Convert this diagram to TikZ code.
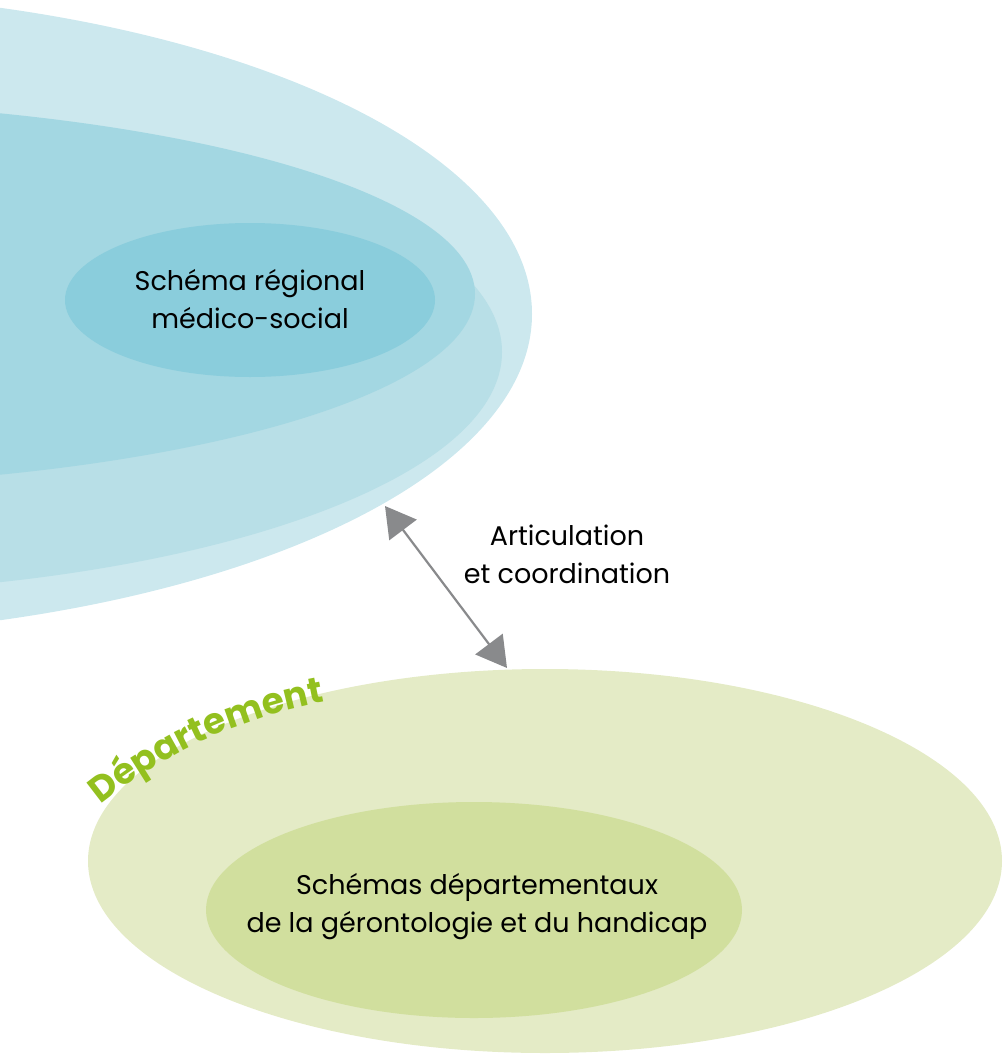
\documentclass[tikz,border=0pt]{standalone}
\usepackage{fontspec}
\setmainfont{Poppins}
\usetikzlibrary{arrows.meta,decorations.text}
\definecolor{regouter}{HTML}{CCE8EE}
\definecolor{regmid}{HTML}{B8DFE7}
\definecolor{regdark}{HTML}{A3D7E2}
\definecolor{reginner}{HTML}{8ACDDC}
\definecolor{depouter}{HTML}{E4EBC6}
\definecolor{depinner}{HTML}{D1DF9E}
\definecolor{depgreen}{HTML}{93C01F}
\definecolor{arrowgray}{HTML}{898A8C}
\newcommand{\depfont}{\bfseries\fontsize{36}{36}\selectfont}
\tikzset{
  schematext/.style={align=center, inner sep=0pt, font=\fontsize{27}{38}\selectfont},
  arrowline/.style={draw=arrowgray, line width=2.2pt,
    {Triangle[length=30pt,width=34pt]}-{Triangle[length=30pt,width=34pt]}}
}
\begin{document}
\begin{tikzpicture}[x=1pt, y=-1pt]
                \useasboundingbox (0,0) rectangle (1004,1057);
                \clip (0,0) rectangle (1004,1057);
                % region
                \fill[regouter] (-249,314) ellipse (781 and 323);
                \fill[regmid] (-225,352) ellipse (727 and 242);
                \fill[regdark] (-258,294) ellipse (733 and 193);
                \fill[reginner] (250,300) ellipse (185 and 77);
                \node[schematext] (region) at (250,299) {Schéma régional\\médico-social};
                % departement
                \fill[depouter] (545,861) ellipse (457 and 192);
                \fill[depinner] (474,910) ellipse (268 and 108);
                \node[schematext] (schemas) at (477,907) {Schémas départementaux\\de la gérontologie et du handicap};
                \path[decorate, decoration={text along path, text color=depgreen,
                    text={|\depfont|Département}}]
                    (101,805) .. controls (173,747) and (253,712) .. (348,698);
                % articulation
                \coordinate (regtip) at (385,506);
                \coordinate (deptip) at (507,668);
                \draw[arrowline] (regtip) -- (deptip);
                \node[schematext] (artic) at (567,554) {Articulation\\et coordination};
\end{tikzpicture}
\end{document}
